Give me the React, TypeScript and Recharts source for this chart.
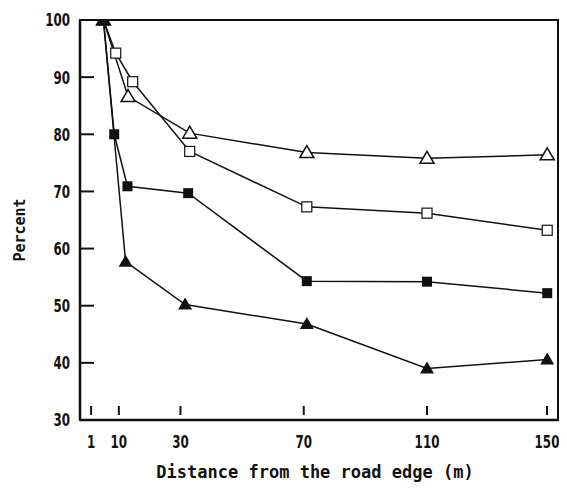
import React from "react";
import { LineChart, Line, XAxis, YAxis, ReferenceArea } from "recharts";

// x positions (distance, m) and percent values
const openTriX = [5, 13, 33, 71, 110, 149];
const openTriY = [100, 86.6, 80.2, 76.8, 75.8, 76.4];

const openSqX = [5, 9, 14.5, 33, 71, 110, 149];
const openSqY = [100, 94.2, 89.2, 77, 67.3, 66.2, 63.2];

const solidSqX = [5, 8.5, 12.8, 32.5, 71, 110, 149];
const solidSqY = [100, 80, 70.9, 69.7, 54.3, 54.2, 52.2];

const solidTriX = [5, 12.2, 31.5, 71, 110, 149];
const solidTriY = [100, 57.7, 50.2, 46.8, 39, 40.6];

const xTicks = [1, 10, 30, 70, 110, 150];
const yTicks = [30, 40, 50, 60, 70, 80, 90, 100];

const xTitle = "Distance from the road edge (m)";
const yTitle = "Percent";

const zip = (xs: number[], ys: number[]) => xs.map((x, i) => ({ x, y: ys[i] }));
const openTri = zip(openTriX, openTriY);
const openSq = zip(openSqX, openSqY);
const solidSq = zip(solidSqX, solidSqY);
const solidTri = zip(solidTriX, solidTriY);

const INK = "#111";
const TICK_FONT = "'DejaVu Sans', sans-serif";
const MONO = "'DejaVu Sans Mono', monospace";

const openTriDot = (p: any) => {
  const { cx, cy, index } = p;
  if (cx == null || cy == null) return <g key={`ot${index}`} />;
  return (
    <path
      key={`ot${index}`}
      d={`M${cx},${cy - 7} L${cx + 7},${cy + 5} L${cx - 7},${cy + 5} Z`}
      fill="#fff"
      stroke={INK}
      strokeWidth={1.5}
    />
  );
};

const openSqDot = (p: any) => {
  const { cx, cy, index } = p;
  if (cx == null || cy == null) return <g key={`os${index}`} />;
  return (
    <rect
      key={`os${index}`}
      x={cx - 5}
      y={cy - 5}
      width={10}
      height={10}
      fill="#fff"
      stroke={INK}
      strokeWidth={1.2}
    />
  );
};

const solidSqDot = (p: any) => {
  const { cx, cy, index } = p;
  if (cx == null || cy == null) return <g key={`ss${index}`} />;
  return <rect key={`ss${index}`} x={cx - 5} y={cy - 5} width={10} height={10} fill={INK} />;
};

const solidTriDot = (p: any) => {
  const { cx, cy, index } = p;
  if (cx == null || cy == null) return <g key={`st${index}`} />;
  return (
    <path
      key={`st${index}`}
      d={`M${cx},${cy - 7} L${cx + 7},${cy + 5} L${cx - 7},${cy + 5} Z`}
      fill={INK}
    />
  );
};

const YTick = (props: any) => {
  const { x, y, payload } = props;
  const v = payload.value;
  return (
    <g>
      {v !== 30 && v !== 100 && (
        <line x1={x + 1} x2={x + 14} y1={y} y2={y} stroke={INK} strokeWidth={2} />
      )}
      <text
        transform={`translate(${x - 10},${y}) scale(0.7,1)`}
        textAnchor="end"
        dominantBaseline="central"
        fontFamily={TICK_FONT}
        fontWeight="bold"
        fontSize={17}
        fill={INK}
      >
        {v}
      </text>
    </g>
  );
};

const XTick = (props: any) => {
  const { x, y, payload } = props;
  return (
    <g>
      <line x1={x} x2={x} y1={y - 14} y2={y - 5} stroke={INK} strokeWidth={2} />
      <text
        transform={`translate(${x},${y + 22}) scale(0.7,1)`}
        textAnchor="middle"
        dominantBaseline="central"
        fontFamily={TICK_FONT}
        fontWeight="bold"
        fontSize={17}
        fill={INK}
      >
        {payload.value}
      </text>
    </g>
  );
};

const XTitle = (props: any) => {
  const vb = props.viewBox || {};
  return (
    <text
      x={vb.x + vb.width / 2 - 4}
      y={vb.y + 58}
      textAnchor="middle"
      fontFamily={MONO}
      fontWeight="bold"
      fontSize={17}
      fill={INK}
    >
      {xTitle}
    </text>
  );
};

const YTitle = (props: any) => {
  const vb = props.viewBox || {};
  const cx = vb.x + 12;
  const cy = vb.y + vb.height / 2 + 10;
  return (
    <text
      transform={`translate(${cx},${cy}) rotate(-90)`}
      textAnchor="middle"
      dominantBaseline="central"
      fontFamily={MONO}
      fontWeight="bold"
      fontSize={15}
      fill={INK}
    >
      {yTitle}
    </text>
  );
};

const X_DOMAIN: [number, number] = [-2.6, 152.5];
const Y_DOMAIN: [number, number] = [30, 100];

export default function App() {
  return (
    <div style={{ width: 551, height: 476 }}>
      <style>{`.recharts-surface{overflow:visible}`}</style>
      <LineChart width={551} height={476} margin={{ top: 12, right: 1, left: 0, bottom: 0 }}>
        <ReferenceArea
          x1={X_DOMAIN[0]}
          x2={X_DOMAIN[1]}
          y1={Y_DOMAIN[0]}
          y2={Y_DOMAIN[1]}
          fill="none"
          stroke={INK}
          strokeWidth={2}
          ifOverflow="visible"
        />
        <XAxis
          dataKey="x"
          type="number"
          domain={X_DOMAIN}
          ticks={xTicks}
          allowDataOverflow
          height={64}
          tickSize={0}
          tickMargin={0}
          tickLine={false}
          tick={<XTick />}
          axisLine={{ stroke: INK, strokeWidth: 2.5 }}
          label={{ content: <XTitle /> }}
        />
        <YAxis
          type="number"
          domain={Y_DOMAIN}
          ticks={yTicks}
          allowDataOverflow
          width={72}
          tickSize={0}
          tickMargin={0}
          tickLine={false}
          tick={<YTick />}
          axisLine={{ stroke: INK, strokeWidth: 2.5 }}
          label={{ content: <YTitle /> }}
        />
        <Line
          data={openTri}
          dataKey="y"
          stroke={INK}
          strokeWidth={1.5}
          dot={openTriDot}
          activeDot={false}
          isAnimationActive={false}
        />
        <Line
          data={openSq}
          dataKey="y"
          stroke={INK}
          strokeWidth={1.5}
          dot={openSqDot}
          activeDot={false}
          isAnimationActive={false}
        />
        <Line
          data={solidSq}
          dataKey="y"
          stroke={INK}
          strokeWidth={1.5}
          dot={solidSqDot}
          activeDot={false}
          isAnimationActive={false}
        />
        <Line
          data={solidTri}
          dataKey="y"
          stroke={INK}
          strokeWidth={1.5}
          dot={solidTriDot}
          activeDot={false}
          isAnimationActive={false}
        />
      </LineChart>
    </div>
  );
}
